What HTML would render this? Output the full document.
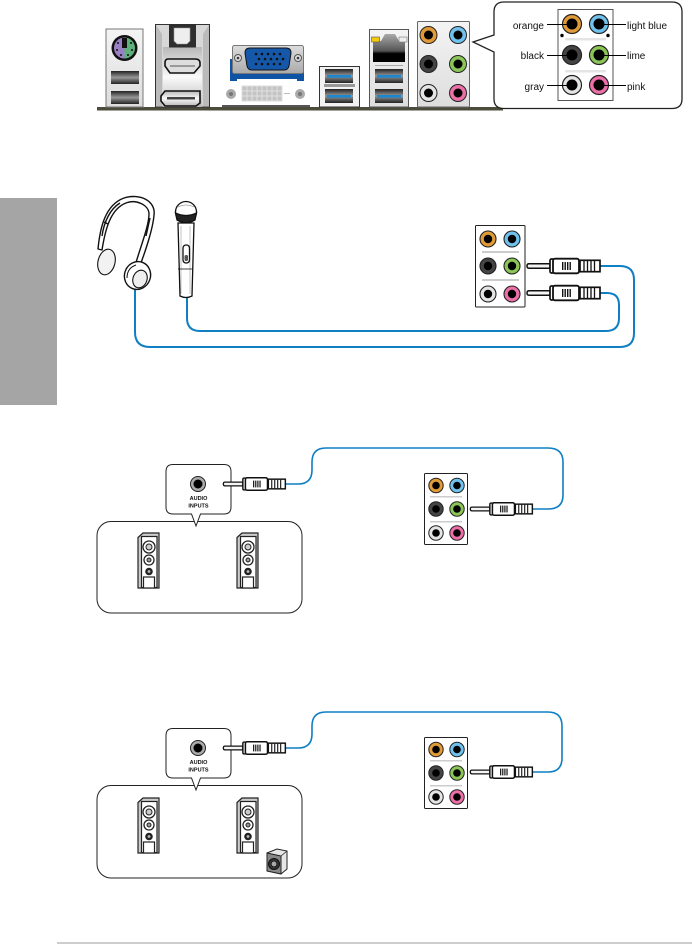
<!DOCTYPE html>
<html><head><meta charset="utf-8">
<style>
html,body{margin:0;padding:0;background:#fff;width:692px;height:944px;overflow:hidden}
svg{display:block;position:absolute;left:0;top:0}
text{font-family:"Liberation Sans",sans-serif;fill:#111}
</style></head><body>
<svg width="692" height="944" viewBox="0 0 692 944" xmlns="http://www.w3.org/2000/svg">
<defs>
<linearGradient id="usb" x1="0" y1="0" x2="0" y2="1"><stop offset="0" stop-color="#222"/><stop offset=".5" stop-color="#999"/><stop offset="1" stop-color="#222"/></linearGradient>
<linearGradient id="plate" x1="0" y1="0" x2="0" y2="1"><stop offset="0" stop-color="#f4f4f4"/><stop offset="1" stop-color="#ddd"/></linearGradient>
<linearGradient id="hd" x1="0" y1="0" x2="0" y2="1"><stop offset="0" stop-color="#b8b8b8"/><stop offset=".5" stop-color="#fafafa"/><stop offset="1" stop-color="#b8b8b8"/></linearGradient>
<linearGradient id="rj" x1="0" y1="0" x2="0" y2="1"><stop offset="0" stop-color="#aaa"/><stop offset=".6" stop-color="#555"/><stop offset=".7" stop-color="#000"/><stop offset="1" stop-color="#000"/></linearGradient>
<linearGradient id="vga" x1="0" y1="0" x2="0" y2="1"><stop offset="0" stop-color="#ddd"/><stop offset="1" stop-color="#aaa"/></linearGradient>

<g id="plug">
  <path d="M0-2.200H21V2.200H0Q-2 2.200-2 0T0-2.200Z" fill="#f4f4f4" stroke="#111" stroke-width="1.500"/>
  <rect x="21" y="-7" width="4" height="14" rx="1.500" fill="#fff" stroke="#111" stroke-width="1.700"/>
  <rect x="24" y="-7.300" width="26" height="14.600" rx="2" fill="#fff" stroke="#111" stroke-width="1.800"/>
  <rect x="33" y="-4" width="1.400" height="8" fill="#111"/><rect x="35.500" y="-4" width="1.400" height="8" fill="#111"/><rect x="38" y="-4" width="1.400" height="8" fill="#111"/><rect x="40.500" y="-4" width="1.400" height="8" fill="#111"/>
  <rect x="51" y="-5.700" width="20" height="11.400" fill="#fff" stroke="#111" stroke-width="1.700"/>
  <path d="M55-5V5M58.500-5V5M62-5V5M65.500-5V5" stroke="#111" stroke-width="1.300"/>
</g>

<g id="spk">
  <path d="M0 4.500L5 0H21V55H0Z" fill="#ccc" stroke="#222" stroke-width="1.200"/>
  <rect x="3.500" y="3.500" width="15.500" height="51" fill="#fff" stroke="#222" stroke-width="1.200"/>
  <circle cx="11" cy="14" r="6" fill="#fff" stroke="#222" stroke-width="1.300"/><circle cx="11" cy="14" r="3" fill="#ccc" stroke="#222" stroke-width="1"/>
  <circle cx="11" cy="27" r="5" fill="#fff" stroke="#222" stroke-width="1.300"/><circle cx="11" cy="27" r="2" fill="#999" stroke="#222" stroke-width="1"/>
  <circle cx="11" cy="38.500" r="3.800" fill="#222"/><circle cx="11" cy="38.500" r="1.400" fill="#bbb"/>
  <rect x="5.500" y="44" width="11" height="11" fill="#fff" stroke="#222" stroke-width="1.200"/>
</g>

<g id="usbp">
  <rect x="0" y="0" width="28" height="13" fill="url(#usb)"/>
</g>
<g id="usb3">
  <rect x="0" y="0" width="28" height="14" fill="url(#usb)"/>
  <rect x="2" y="6" width="24" height="2.600" fill="#1c86cf"/>
</g>
</defs>

<!-- sidebar / footer -->
<rect x="0" y="198" width="57" height="207" fill="#a5a5a5"/>
<rect x="57" y="942" width="635" height="2" fill="#cdcdcd"/>

<!-- I/O shield -->
<rect x="97" y="107" width="406" height="3.500" fill="#4c4c3c"/>

<!-- PS/2 + USB -->
<rect x="106" y="29" width="37" height="78" fill="url(#plate)" stroke="#777" stroke-width="1"/>
<circle cx="124.500" cy="48" r="13" fill="#111"/>
<path d="M124.500 37.500A10.500 10.500 0 0 0 124.500 58.500Z" fill="#9a80c4"/>
<path d="M124.500 37.500A10.500 10.500 0 0 1 124.500 58.500Z" fill="#5fb07a"/>
<rect x="122" y="38" width="5" height="10" fill="#111"/>
<g fill="#111"><circle cx="118" cy="43" r="1"/><circle cx="131" cy="43" r="1"/><circle cx="117" cy="50" r="1"/><circle cx="132" cy="50" r="1"/><circle cx="121" cy="55" r="1"/><circle cx="128" cy="55" r="1"/></g>
<use href="#usbp" x="111" y="71"/><use href="#usbp" x="111" y="91"/>

<!-- Optical / HDMI / DP -->
<rect x="155.500" y="24.500" width="54" height="82.500" fill="#d8d8d8" stroke="#333" stroke-width="1"/>
<path d="M156 25L162 34V106H156ZM209 25L203 34V106H209Z" fill="#bbb"/>
<rect x="163" y="47" width="39" height="60" fill="url(#hd)"/>
<rect x="169" y="24" width="27" height="23.500" fill="#2e2e2e"/>
<path d="M174 28H190V41L187 44H177L174 41Z" fill="#eee" stroke="#999" stroke-width=".6"/>
<path d="M168 59H195Q200 59 200 63V66L194 73H170L165 66V63Q165 59 168 59Z" fill="#ddd" stroke="#111" stroke-width="1.600"/>
<rect x="170" y="65" width="25" height="2" fill="#999"/>
<path d="M165 91H200V103L196 106H165L161 101V96Z" fill="url(#hd)" stroke="#111" stroke-width="1.600"/>
<rect x="167" y="97" width="28" height="2.500" fill="#444"/>

<!-- VGA / DVI -->
<rect x="230" y="59" width="74" height="23" fill="#0f53a5"/>
<rect x="222" y="81" width="88" height="26" fill="#fff"/>
<rect x="237" y="79" width="60" height="3" fill="#fff"/>
<rect x="222" y="105" width="88" height="2" fill="#555"/>
<rect x="232.500" y="45.500" width="71" height="28" rx="2" fill="url(#vga)" stroke="#777" stroke-width="1"/>
<path d="M250 48H286Q291 48 291 53L289 66Q288 70 284 70H252Q248 70 247 66L245 53Q245 48 250 48Z" fill="#1557a8" stroke="#111" stroke-width="1"/>
<g fill="#111"><circle cx="256" cy="54" r="1.300"/><circle cx="262" cy="54" r="1.300"/><circle cx="268" cy="54" r="1.300"/><circle cx="274" cy="54" r="1.300"/><circle cx="280" cy="54" r="1.300"/><circle cx="259" cy="59" r="1.300"/><circle cx="265" cy="59" r="1.300"/><circle cx="271" cy="59" r="1.300"/><circle cx="277" cy="59" r="1.300"/><circle cx="283" cy="59" r="1.300"/><circle cx="256" cy="64" r="1.300"/><circle cx="262" cy="64" r="1.300"/><circle cx="268" cy="64" r="1.300"/><circle cx="274" cy="64" r="1.300"/><circle cx="280" cy="64" r="1.300"/></g>
<circle cx="238" cy="58" r="3.500" fill="#ddd" stroke="#555"/><circle cx="238" cy="58" r="1.300" fill="#333"/>
<circle cx="298" cy="58" r="3.500" fill="#ddd" stroke="#555"/><circle cx="298" cy="58" r="1.300" fill="#333"/>
<rect x="242" y="86" width="40" height="15" fill="#c4c4c4" stroke="#ddd"/>
<path d="M247 86V101M252 86V101M257 86V101M262 86V101M267 86V101M272 86V101M277 86V101M242 91H282M242 96H282" stroke="#e8e8e8" stroke-width=".8"/>
<rect x="284" y="93" width="6" height="1" fill="#bbb"/>
<circle cx="231" cy="94" r="5" fill="#aaa"/><circle cx="231" cy="94" r="2" fill="#777"/>
<circle cx="300" cy="94" r="5" fill="#aaa"/><circle cx="300" cy="94" r="2" fill="#777"/>

<!-- USB3 -->
<rect x="319.500" y="66.500" width="40" height="40.500" fill="#f2f2f2" stroke="#333" stroke-width="1"/>
<use href="#usb3" x="325" y="69"/><use href="#usb3" x="325" y="89"/>
<rect x="324" y="84" width="31" height="3" fill="#999"/>

<!-- LAN -->
<rect x="369.500" y="29.500" width="39" height="77.500" fill="url(#plate)" stroke="#555" stroke-width="1"/>
<path d="M373 41H381L385 34H395L399 41H405V62H373Z" fill="url(#rj)"/>
<rect x="371.500" y="37" width="8" height="5" fill="#f3c90c" stroke="#555" stroke-width=".6"/>
<rect x="399" y="37" width="8" height="5" fill="#eee" stroke="#777" stroke-width=".6"/>
<rect x="375" y="65" width="28" height="1" fill="#aaa"/>
<use href="#usb3" x="375" y="69"/><use href="#usb3" x="375" y="89"/>

<!-- Audio panel -->
<rect x="417.500" y="21.500" width="52" height="85.500" rx="1" fill="url(#plate)" stroke="#666" stroke-width="1"/>
<g stroke-width="1">
<circle cx="428.500" cy="35" r="8.500" fill="#e09a38" stroke="#222"/><circle cx="428.500" cy="35" r="4.500" fill="#000"/>
<circle cx="458" cy="35" r="8.500" fill="#6fc2ee" stroke="#222"/><circle cx="458" cy="35" r="4.500" fill="#000"/>
<circle cx="428.500" cy="64" r="8.500" fill="#444" stroke="#222"/><circle cx="428.500" cy="64" r="4.500" fill="#000"/>
<circle cx="458" cy="64" r="8.500" fill="#8bc558" stroke="#222"/><circle cx="458" cy="64" r="4.500" fill="#000"/>
<circle cx="428.500" cy="93" r="8.500" fill="#e4e4e4" stroke="#222"/><circle cx="428.500" cy="93" r="4.500" fill="#000"/>
<circle cx="458" cy="93" r="8.500" fill="#ec6fa8" stroke="#222"/><circle cx="458" cy="93" r="4.500" fill="#000"/>
</g>

<!-- Callout -->
<path d="M504 2H672Q682 2 682 12V99Q682 108.500 672 108.500H504Q494 108.500 494 99V52L473 42L494 35V12Q494 2 504 2Z" fill="#fff" stroke="#222" stroke-width="1.300"/>
<rect x="558" y="9.500" width="55" height="91" fill="#fff" stroke="#555" stroke-width="1"/>
<rect x="565" y="38" width="41" height="2.500" rx="1" fill="#e4e4e4"/>
<rect x="565" y="70" width="41" height="2.500" rx="1" fill="#e4e4e4"/>
<circle cx="562" cy="35.500" r="1.700" fill="#000"/><circle cx="608" cy="35.500" r="1.700" fill="#000"/>
<g stroke-width="1.200">
<circle cx="572" cy="24" r="9.500" fill="#e09a38" stroke="#222"/><circle cx="572" cy="24" r="5.500" fill="#000"/>
<circle cx="599" cy="24" r="9.500" fill="#6fc2ee" stroke="#222"/><circle cx="599" cy="24" r="5.500" fill="#000"/>
<circle cx="572" cy="55" r="9.500" fill="#444" stroke="#222"/><circle cx="572" cy="55" r="5.500" fill="#000"/>
<circle cx="599" cy="55" r="9.500" fill="#8bc558" stroke="#222"/><circle cx="599" cy="55" r="5.500" fill="#000"/>
<circle cx="572" cy="85" r="9.500" fill="#e4e4e4" stroke="#222"/><circle cx="572" cy="85" r="5.500" fill="#000"/>
<circle cx="599" cy="85" r="9.500" fill="#ec6fa8" stroke="#222"/><circle cx="599" cy="85" r="5.500" fill="#000"/>
</g>
<path d="M547 24.500H572M599 24.500H626M547 55.500H572M599 55.500H626M547 85.500H572M599 85.500H626" stroke="#000" stroke-width="1.100"/>
<g font-size="10">
<text x="544" y="29" text-anchor="end">orange</text>
<text x="544" y="59" text-anchor="end">black</text>
<text x="544" y="90" text-anchor="end">gray</text>
<text x="627" y="29">light blue</text>
<text x="627" y="59">lime</text>
<text x="627" y="90">pink</text>
</g>

<!-- Section 2: wires -->
<g fill="none" stroke="#0f7fc4" stroke-width="2">
<path d="M598 266H620Q634 266 634 280V333Q634 347 620 347H150Q135 347 135 332V290"/>
<path d="M598 293H607Q619 293 619 305V318Q619 331 606 331H200Q187 331 187 318V298"/>
</g>

<!-- Headphones -->
<g fill="#fff" stroke="#111" stroke-width="1.400" stroke-linejoin="round">
<path d="M98 249C100 228 105 205 124 198C140 193 156 201 154 215C153 228 146 250 139 268L135 266C140 248 149 226 149 214C149 205 136 199 126 203C110 209 105 231 102 250Z"/>
<path d="M102 236C104 222 110 209 120 203M146 236L150 218M104 222L108 224" fill="none"/>
<ellipse cx="106.500" cy="262" rx="8.500" ry="13" transform="rotate(14 106.500 262)" fill="#f2f2f2" stroke-width="1.100"/>
<ellipse cx="137.500" cy="275.500" rx="13" ry="14" transform="rotate(20 137.500 275.500)"/>
<ellipse cx="140" cy="279" rx="7" ry="9" transform="rotate(20 140 279)" fill="#eee" stroke-width="1.100"/>
<path d="M127 278Q127 268 136 265" fill="none" stroke-width="1"/>
</g>

<!-- Microphone -->
<g stroke="#111" stroke-width="1.300" fill="#fff">
<path d="M178 223H194L192 296Q186 299 180 296Z"/>
<path d="M181 226V294M190 226V294" stroke-width=".5" stroke="#888"/>
<circle cx="186" cy="212" r="10.500"/>
<path d="M175.500 213Q186 218 196.500 213L195 220Q186 225 177 220Z" fill="#222"/>
<path d="M178 207Q186 203 194 207" fill="none" stroke-width=".6" stroke="#777"/>
<path d="M178 269H193" stroke-width=".8"/>
<rect x="183" y="245" width="6.500" height="18" rx="3" fill="#fff"/>
<rect x="184.500" y="255" width="3.500" height="6" rx="1.500" fill="#555" stroke="none"/>
</g>

<!-- Section 2: panel -->
<rect x="475.500" y="225.500" width="49.500" height="81.500" rx="1" fill="#fff" stroke="#222" stroke-width="1"/>
<rect x="482" y="251" width="37" height="2" fill="#ccc"/><rect x="482" y="279" width="37" height="2" fill="#ccc"/>
<g stroke-width="1.100">
<circle cx="488" cy="239" r="8" fill="#e09a38" stroke="#222"/><circle cx="488" cy="239" r="4.200" fill="#000"/>
<circle cx="512" cy="239" r="8" fill="#6fc2ee" stroke="#222"/><circle cx="512" cy="239" r="4.200" fill="#000"/>
<circle cx="488" cy="266" r="8" fill="#444" stroke="#222"/><circle cx="488" cy="266" r="4.200" fill="#000"/>
<circle cx="512" cy="266" r="8" fill="#8bc558" stroke="#222"/><circle cx="512" cy="266" r="4.200" fill="#000"/>
<circle cx="488" cy="294" r="8" fill="#e4e4e4" stroke="#222"/><circle cx="488" cy="294" r="4.200" fill="#000"/>
<circle cx="512" cy="294" r="8" fill="#ec6fa8" stroke="#222"/><circle cx="512" cy="294" r="4.200" fill="#000"/>
</g>
<use href="#plug" transform="translate(529 266)"/>
<use href="#plug" transform="translate(529 293)"/>

<!-- Section 3 -->
<path d="M285 484H298Q312 484 312 470V462Q312 448 326 448H548Q563 448 563 462V495Q563 509 548 509H531" fill="none" stroke="#0f7fc4" stroke-width="1.600"/>
<rect x="97" y="521.500" width="205" height="91.500" rx="14" fill="#fff" stroke="#222" stroke-width="1"/>
<path d="M173 464.500H224Q231 464.500 231 471.500V507Q231 514 224 514H200.500L196 526L191.500 514H173Q166 514 166 507V471.500Q166 464.500 173 464.500Z" fill="#fff" stroke="#222" stroke-width="1"/>
<circle cx="198" cy="484" r="7.500" fill="#aaa" stroke="#222"/><circle cx="198" cy="484" r="4.500" fill="#000"/>
<text x="198.500" y="500" font-size="5.500" font-weight="bold" text-anchor="middle">AUDIO</text>
<text x="198.500" y="507.500" font-size="5.500" font-weight="bold" text-anchor="middle">INPUTS</text>
<use href="#plug" transform="translate(225 484) scale(.85)"/>
<use href="#spk" x="138" y="533"/><use href="#spk" x="237" y="533"/>

<rect x="424.500" y="473.500" width="43" height="71" rx="1" fill="#fff" stroke="#222" stroke-width="1"/>
<rect x="430" y="496" width="32" height="1.500" fill="#ccc"/><rect x="430" y="521" width="32" height="1.500" fill="#ccc"/>
<g stroke-width="1">
<circle cx="436" cy="485.500" r="7.200" fill="#e09a38" stroke="#222"/><circle cx="436" cy="485.500" r="3.800" fill="#000"/>
<circle cx="457" cy="485.500" r="7.200" fill="#6fc2ee" stroke="#222"/><circle cx="457" cy="485.500" r="3.800" fill="#000"/>
<circle cx="436" cy="509" r="7.200" fill="#444" stroke="#222"/><circle cx="436" cy="509" r="3.800" fill="#000"/>
<circle cx="457" cy="509" r="7.200" fill="#8bc558" stroke="#222"/><circle cx="457" cy="509" r="3.800" fill="#000"/>
<circle cx="436" cy="533" r="7.200" fill="#e4e4e4" stroke="#222"/><circle cx="436" cy="533" r="3.800" fill="#000"/>
<circle cx="457" cy="533" r="7.200" fill="#ec6fa8" stroke="#222"/><circle cx="457" cy="533" r="3.800" fill="#000"/>
</g>
<use href="#plug" transform="translate(472 509) scale(.85)"/>

<!-- Section 4 -->
<path d="M285 748H298Q312 748 312 734V726Q312 712 326 712H548Q562 712 562 726V758Q562 772 548 772H531" fill="none" stroke="#0f7fc4" stroke-width="1.600"/>
<rect x="97" y="785.500" width="205" height="92.500" rx="14" fill="#fff" stroke="#222" stroke-width="1"/>
<path d="M173 728.500H224Q231 728.500 231 735.500V771Q231 778 224 778H200.500L196 790L191.500 778H173Q166 778 166 771V735.500Q166 728.500 173 728.500Z" fill="#fff" stroke="#222" stroke-width="1"/>
<circle cx="198" cy="748" r="7.500" fill="#aaa" stroke="#222"/><circle cx="198" cy="748" r="4.500" fill="#000"/>
<text x="198.500" y="764" font-size="5.500" font-weight="bold" text-anchor="middle">AUDIO</text>
<text x="198.500" y="771.500" font-size="5.500" font-weight="bold" text-anchor="middle">INPUTS</text>
<use href="#plug" transform="translate(225 748) scale(.85)"/>
<use href="#spk" x="138" y="798"/><use href="#spk" x="237" y="798"/>
<path d="M267 853L277 849L287 851V869L281 874L267 871Z" fill="#e6e6e6" stroke="#222" stroke-width="1"/>
<path d="M267 853L281 856L287 851M281 856V874" fill="none" stroke="#222" stroke-width=".8"/>
<path d="M267 853L281 856V874L267 871Z" fill="#888" stroke="#222" stroke-width="1"/>
<circle cx="274" cy="864" r="5.500" fill="#333" stroke="#111"/><circle cx="274" cy="864" r="2.800" fill="#aaa" stroke="#111" stroke-width=".7"/>

<rect x="424.500" y="737.500" width="43" height="71" rx="1" fill="#fff" stroke="#222" stroke-width="1"/>
<rect x="430" y="760" width="32" height="1.500" fill="#ccc"/><rect x="430" y="785" width="32" height="1.500" fill="#ccc"/>
<g stroke-width="1">
<circle cx="436" cy="749.500" r="7.200" fill="#e09a38" stroke="#222"/><circle cx="436" cy="749.500" r="3.800" fill="#000"/>
<circle cx="457" cy="749.500" r="7.200" fill="#6fc2ee" stroke="#222"/><circle cx="457" cy="749.500" r="3.800" fill="#000"/>
<circle cx="436" cy="773" r="7.200" fill="#444" stroke="#222"/><circle cx="436" cy="773" r="3.800" fill="#000"/>
<circle cx="457" cy="773" r="7.200" fill="#8bc558" stroke="#222"/><circle cx="457" cy="773" r="3.800" fill="#000"/>
<circle cx="436" cy="797" r="7.200" fill="#e4e4e4" stroke="#222"/><circle cx="436" cy="797" r="3.800" fill="#000"/>
<circle cx="457" cy="797" r="7.200" fill="#ec6fa8" stroke="#222"/><circle cx="457" cy="797" r="3.800" fill="#000"/>
</g>
<use href="#plug" transform="translate(472 772) scale(.85)"/>
</svg>
</body></html>
